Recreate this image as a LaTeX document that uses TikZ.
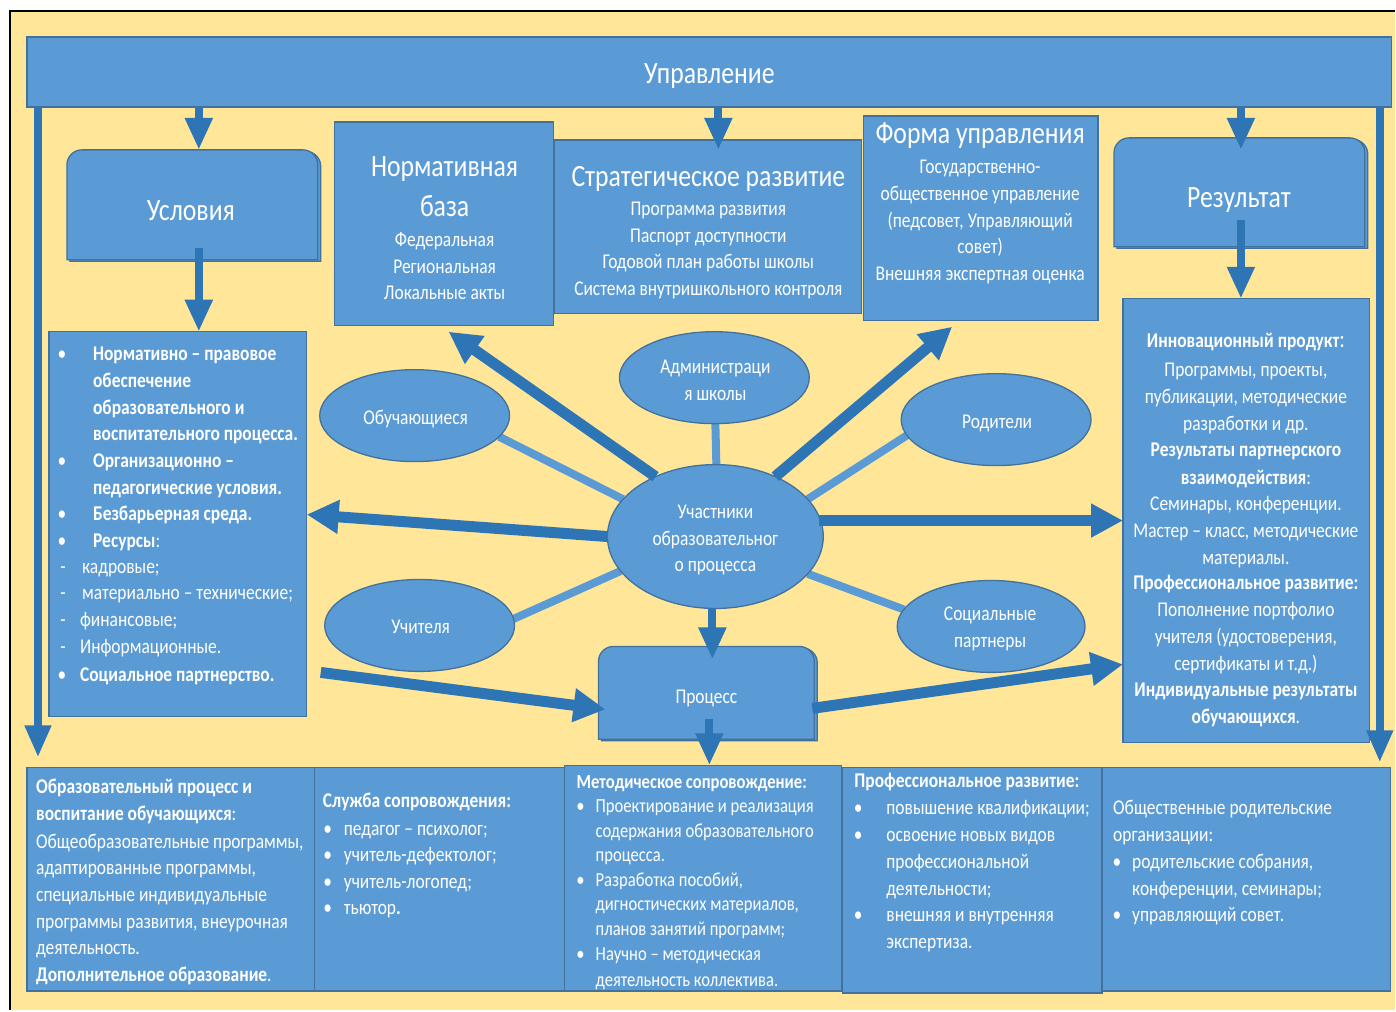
\documentclass[tikz,border=0pt]{standalone}
\usepackage{fontspec}
\setmainfont{Carlito}[FakeStretch=0.83]
\usetikzlibrary{arrows.meta,shapes.geometric}
\pgfdeclarelayer{bgl}
\pgfdeclarelayer{mid}
\pgfsetlayers{bgl,mid,main}
\definecolor{bgy}{HTML}{FFE699}
\definecolor{bfill}{HTML}{5B9BD5}
\definecolor{bline}{HTML}{41719C}
\definecolor{darr}{HTML}{2E75B6}
\newcommand\rtopbox[2]{%
  \filldraw[rbx] ([shift={#2}]#1.south west) -- ([shift={#2},yshift=-15pt]#1.north west)
    arc[start angle=180,end angle=90,radius=15pt] -- ([shift={#2},xshift=-15pt]#1.north east)
    arc[start angle=90,end angle=0,radius=15pt] -- ([shift={#2}]#1.south east) -- cycle;}
\tikzset{
  bx/.style={draw=bline,line width=1.3pt,fill=bfill,inner sep=0pt,outer sep=0pt,anchor=north west},
  ghost/.style={inner sep=0pt,outer sep=0pt,anchor=north west},
  rbx/.style={draw=bline,line width=1.3pt,fill=bfill},
  el/.style={ellipse,draw=bline,line width=1.3pt,fill=bfill,inner sep=0pt,outer sep=0pt},
  tA/.style={inner sep=0pt,text=white,text height=24pt,text depth=2.5pt,font=\fontsize{31}{36}\selectfont},
  tB/.style={inner sep=0pt,text=white,text height=17pt,text depth=2pt,font=\fontsize{21}{25}\selectfont},
  tS/.style={inner sep=0pt,text=white,text height=16pt,text depth=2pt,font=\fontsize{20}{24}\selectfont},
  lc/.style={draw=bfill,line width=8pt},
  da/.style={draw=darr,line width=11pt,-{Triangle[width=32pt,length=32pt]}},
  va/.style={draw=darr,line width=8pt,-{Triangle[width=26pt,length=32pt]}},
  la/.style={draw=darr,line width=7.5pt,-{Triangle[width=25pt,length=32pt]}},
}
\begin{document}
\begin{tikzpicture}[x=1pt,y=-1pt]
\begin{pgfonlayer}{bgl}
  \fill[white] (0,0) rectangle (1396,1011);
  \fill[bgy] (10,11) rectangle (1396,1011);
  \draw[black,line width=2.5pt] (10,1011) -- (10,11) -- (1396,11);
\end{pgfonlayer}
\useasboundingbox (0,0) rectangle (1396,1011);

% ---- boxes ----
\node[bx,minimum width=1366pt,minimum height=70pt] (upr) at (27,37) {};
\node[tA] (uprt) at (710,73) {Управление};

\node[ghost,minimum width=251pt,minimum height=110pt] (usl) at (67,150) {};
\rtopbox{usl}{(3pt,-1.5pt)}
\rtopbox{usl}{(0pt,0pt)}
\node[tA] (uslt) at (191,210) {Условия};

\node[ghost,minimum width=251pt,minimum height=109pt] (res) at (1115,138) {};
\rtopbox{res}{(3pt,-1.5pt)}
\rtopbox{res}{(0pt,0pt)}
\node[tA] (rest) at (1240,197) {Результат};

\node[ghost,minimum width=216pt,minimum height=93pt] (proc) at (599,647) {};
\rtopbox{proc}{(3pt,-1.5pt)}
\rtopbox{proc}{(0pt,0pt)}
\node[tB] (proct) at (707,697) {Процесс};

\node[bx,minimum width=258pt,minimum height=385pt] (lb) at (49,332) {};
\node[bx,minimum width=307pt,minimum height=174pt] (strat) at (555,140) {};
\node[bx,minimum width=219pt,minimum height=204pt] (norm) at (335,122) {};
\node[bx,minimum width=235pt,minimum height=205pt] (forma) at (864,116) {};
\node[bx,minimum width=247pt,minimum height=444pt] (rb) at (1124,299) {};

\node[bx,minimum width=288pt,minimum height=224pt] (b1) at (27,768) {};
\node[bx,minimum width=250pt,minimum height=224pt] (b2) at (315,768) {};
\node[bx,minimum width=277pt,minimum height=226pt] (b3) at (565,766) {};
\node[bx,minimum width=260pt,minimum height=226pt] (b4) at (843,768) {};
\node[bx,minimum width=289pt,minimum height=224pt] (b5) at (1103,768) {};

% ---- box texts ----
\node[tA] (nt1) at (445,166) {Нормативная};
\node[tA] (nt2) at (445,206) {база};
\foreach \yy/\txt in {239/Федеральная,266/Региональная,292/{Локальные акты}}
  \node[tB] (nts\yy) at (445,\yy) {\txt};

\node[tA] (st1) at (709,176) {Стратегическое развитие};
\foreach \yy/\txt in {208/{Программа развития},235/{Паспорт доступности},261/{Годовой план работы школы},288/{Система внутришкольного контроля}}
  \node[tB] (sts\yy) at (709,\yy) {\txt};

\node[tA] (ft1) at (981,133) {Форма управления};
\foreach \yy/\txt in {166/{Государственно-},193/{общественное управление},220/{(педсовет, Управляющий},246/{совет)},273/{Внешняя экспертная оценка}}
  \node[tB] (fts\yy) at (981,\yy) {\txt};

% left box
\foreach \yy in {353,460,513,540,675} \node[tB] (lbb\yy) at (62,\yy) {•};
\foreach \yy in {567,593,620,647} \node[tB] (lbd\yy) at (63,\yy) {-};
\foreach \yy/\txt in {353/{\textbf{Нормативно – правовое}},380/{\textbf{обеспечение}},407/{\textbf{образовательного и}},433/{\textbf{воспитательного процесса.}},460/{\textbf{Организационно –}},487/{\textbf{педагогические условия.}},513/{\textbf{Безбарьерная среда.}},540/{\textbf{Ресурсы}:}}
  \node[tB,anchor=west] (lbt\yy) at (93,\yy) {\txt};
\foreach \yy/\txt/\xx in {567/{кадровые;}/82,593/{материально – технические;}/82,620/{финансовые;}/80,647/{Информационные.}/80,675/{\textbf{Социальное партнерство.}}/80}
  \node[tB,anchor=west] (lbu\yy) at (\xx,\yy) {\txt};

% right box
\foreach \yy/\txt in {340/{\textbf{Инновационный продукт}{\fontsize{25}{25}\selectfont:}},369/{Программы, проекты,},396/{публикации, методические},423/{разработки и др.},449/{\textbf{Результаты партнерского}},477/{\textbf{взаимодействия}:},503/{Семинары, конференции.},530/{Мастер – класс, методические},557/{материалы.},583/{\textbf{Профессиональное развитие:}},610/{Пополнение портфолио},637/{учителя (удостоверения,},664/{сертификаты и т.д.)},690/{\textbf{Индивидуальные результаты}},717/{\textbf{обучающихся}.}}
  \node[tB] (rbt\yy) at (1247,\yy) {\txt};

% bottom box 1
\foreach \yy/\txt in {787/{\textbf{Образовательный процесс и}},814/{\textbf{воспитание обучающихся}:},842/{Общеобразовательные программы,},868/{адаптированные программы,},895/{специальные индивидуальные},922/{программы развития, внеурочная},948/{деятельность.},975/{\textbf{Дополнительное образование}.}}
  \node[tB,anchor=west] (bt1\yy) at (36,\yy) {\txt};

% bottom box 2
\node[tB,anchor=west] (bt2h) at (323,801) {\textbf{Служба сопровождения:}};
\foreach \yy/\txt in {829/{педагог – психолог;},855/{учитель-дефектолог;},882/{учитель-логопед;},908/{тьютор\textbf{.}}}{
  \node[tB] (bb2\yy) at (328,\yy) {•};
  \node[tB,anchor=west] (bt2\yy) at (344,\yy) {\txt};}

% bottom box 3
\node[tS,anchor=west] (bt3h) at (577,782) {\textbf{Методическое сопровождение:}};
\foreach \yy in {806,880,954} \node[tS] (bb3\yy) at (581,\yy) {•};
\foreach \yy/\txt in {806/{Проектирование и реализация},831/{содержания образовательного},855/{процесса.},880/{Разработка пособий,},904/{дигностических материалов,},929/{планов занятий программ;},954/{Научно – методическая},980/{деятельность коллектива.}}
  \node[tS,anchor=west] (bt3\yy) at (596,\yy) {\txt};

% bottom box 4
\node[tB,anchor=west] (bt4h) at (855,781) {\textbf{Профессиональное развитие:}};
\foreach \yy in {808,835,915} \node[tB] (bb4\yy) at (859,\yy) {•};
\foreach \yy/\txt in {808/{повышение квалификации;},835/{освоение новых видов},862/{профессиональной},889/{деятельности;},915/{внешняя и внутренняя},942/{экспертиза.}}
  \node[tB,anchor=west] (bt4\yy) at (887,\yy) {\txt};

% bottom box 5
\foreach \yy/\txt in {808/{Общественные родительские},835/{организации:}}
  \node[tB,anchor=west] (bt5\yy) at (1114,\yy) {\txt};
\foreach \yy/\txt in {862/{родительские собрания,},889/{конференции, семинары;},915/{управляющий совет.}}
  \node[tB,anchor=west] (bt5\yy) at (1133,\yy) {\txt};
\foreach \yy in {862,915} \node[tB] (bb5\yy) at (1118,\yy) {•};

% ---- ellipses ----
\node[el,minimum width=190pt,minimum height=92pt] (adm) at (715,378) {};
\node[el,minimum width=190pt,minimum height=92pt] (obu) at (415,416) {};
\node[el,minimum width=190pt,minimum height=92pt] (rod) at (997,420) {};
\node[el,minimum width=190pt,minimum height=92pt] (uchit) at (420,626) {};
\node[el,minimum width=188pt,minimum height=92pt] (soc) at (992,627) {};
\node[el,minimum width=216pt,minimum height=144pt] (uch) at (716,537) {};
\node[tB] (admt1) at (716,366) {Администраци};
\node[tB] (admt2) at (716,393) {я школы};
\node[tB] (obut) at (416,417) {Обучающиеся};
\node[tB] (rodt) at (998,421) {Родители};
\node[tB] (ucht) at (421,627) {Учителя};
\node[tB] (soct1) at (991,614) {Социальные};
\node[tB] (soct2) at (991,641) {партнеры};
\node[tB] (uct1) at (716,511) {Участники};
\node[tB] (uct2) at (716,538) {образовательног};
\node[tB] (uct3) at (716,565) {о процесса};

% ---- light connectors ----
\begin{pgfonlayer}{mid}
  \draw[lc] (obu.-14) -- (uch.158);
  \draw[lc] (uchit.4) -- (uch.200);
  \draw[lc] (rod.190) -- (uch.22);
  \draw[lc] (soc.169) -- (uch.-22);
  \draw[lc] ([xshift=1pt]adm.south) -- ([xshift=1pt]uch.north);
\end{pgfonlayer}

% ---- arrows ----
\coordinate (aU) at (199,107);
\coordinate (aS) at (719,107);
\coordinate (aR) at (1242,107);
\coordinate (aL) at (38,107);
\coordinate (aRR) at (1381,107);
\draw[va] (aU) -- (aU |- 0,150);
\draw[va] (aS) -- (aS |- 0,150);
\draw[va] (aR) -- (aR |- 0,150);
\draw[la] (aL) -- (aL |- 0,758);
\draw[la] (aRR) -- (aRR |- 0,763);

\coordinate (uslS) at (199,248);
\draw[va] (uslS) -- (uslS |- lb.north);
\coordinate (resS) at (1242,220);
\draw[va] (resS) -- (resS |- rb.north);

\coordinate (tN) at (449,332);
\coordinate (tF) at (953,327);
\draw[da] (uch.135) -- (tN);
\draw[da] (uch.45) -- (tF);
\draw[da] (uch.180) -- (lb.east |- 0,515);
\coordinate (rA) at (820,521);
\draw[da] (rA) -- (rA -| rb.west);
\coordinate (llS) at (321,673);
\coordinate (llT) at (606,710);
\draw[da] (llS) -- (llT);
\coordinate (lrS) at (813,709);
\draw[da] (lrS) -- (rb.west |- 0,665);
\coordinate (ucS) at (713,609);
\draw[va] (ucS) -- (ucS |- 0,660);
\coordinate (pS) at (710,720);
\draw[va] (pS) -- (pS |- b3.north);
\end{tikzpicture}
\end{document}
